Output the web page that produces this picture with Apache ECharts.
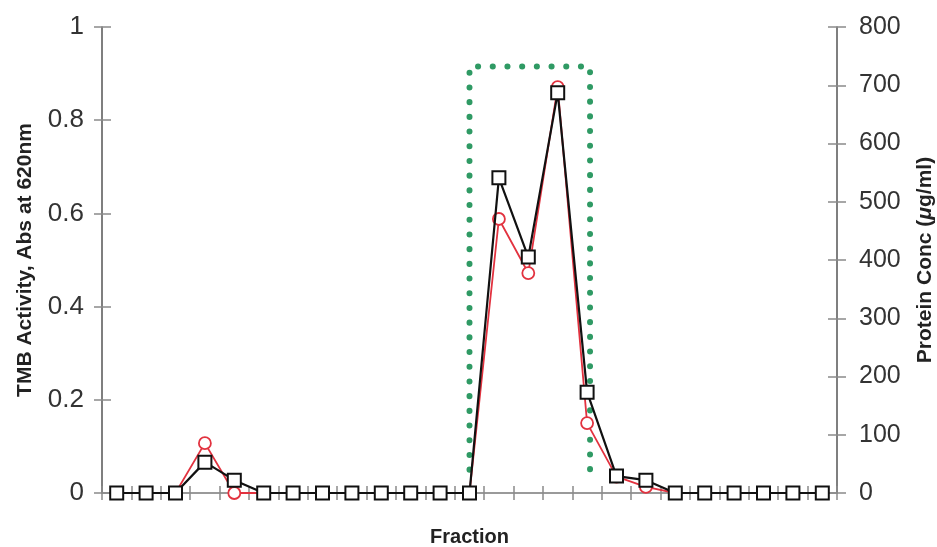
<!DOCTYPE html>
<html>
<head>
<meta charset="utf-8">
<script src="https://cdn.jsdelivr.net/npm/echarts@6/dist/echarts.min.js"></script>
<style>
  html, body { margin: 0; padding: 0; background: #fff; }
  #chart { width: 937px; height: 547px; }
</style>
</head>
<body>
<div id="chart"></div>
<script>
// Fraction numbers along the x axis (labels are not shown on the axis)
const fractions = [1,2,3,4,5,6,7,8,9,10,11,12,13,14,15,16,17,18,19,20,21,22,23,24,25];

// TMB activity (Abs at 620nm), left axis
const tmbActivity = [0,0,0,0.107,0,0,0,0,0,0,0,0,0,0.588,0.472,0.871,0.150,0.035,0.013,0,0,0,0,0,0];

// Protein concentration (µg/ml), right axis
const proteinConc = [0,0,0,53,22,0,0,0,0,0,0,0,0,541,405,687,173,29,22,0,0,0,0,0,0];

// Left axis ticks
const leftMin = 0, leftMax = 1, leftStep = 0.2;
// Right axis ticks
const rightMin = 0, rightMax = 800, rightStep = 100;

// Pooled fractions outline (fraction index along x, activity along y)
const poolX = [12, 16.1];
const poolTop = 0.915;
const poolBottom = 0.05;

const FONT = 'Liberation Sans, Arial, Helvetica, sans-serif';
const poolPath = [
  [poolX[0], poolBottom], [poolX[0], poolTop],
  [poolX[1], poolTop], [poolX[1], poolBottom]
];

const chart = echarts.init(document.getElementById('chart'), null, { renderer: 'canvas' });

const tickStyle = { color: '#8a8a8a', width: 1.5 };

chart.setOption({
  animation: false,
  backgroundColor: '#ffffff',
  grid: { left: 102, right: 100, top: 27, bottom: 54, containLabel: false, outerBoundsMode: 'none' },
  xAxis: [
    {
      type: 'category',
      data: fractions,
      boundaryGap: true,
      name: 'Fraction',
      nameLocation: 'middle',
      nameGap: 34,
      nameTextStyle: { fontFamily: FONT, fontWeight: 'bold', fontSize: 20, color: '#222' },
      axisLine: { onZero: false, lineStyle: { color: '#7a7a7a', width: 1.5 } },
      axisTick: { show: true, inside: false, length: 7, lineStyle: tickStyle },
      axisLabel: { show: false },
      splitLine: { show: false }
    },
    {
      type: 'category',
      data: fractions,
      boundaryGap: true,
      position: 'bottom',
      axisLine: { show: false, onZero: false },
      axisTick: { show: true, inside: true, length: 7, lineStyle: tickStyle },
      axisLabel: { show: false },
      splitLine: { show: false }
    },
    {
      type: 'value',
      min: -0.5,
      max: 24.5,
      show: false,
      axisLine: { onZero: false }
    }
  ],
  yAxis: [
    {
      type: 'value',
      min: leftMin, max: leftMax, interval: leftStep,
      position: 'left',
      name: 'TMB Activity, Abs at 620nm',
      nameLocation: 'middle',
      nameGap: 66,
      nameRotate: 90,
      nameTextStyle: { fontFamily: FONT, fontWeight: 'bold', fontSize: 21, color: '#222' },
      axisLine: { show: true, onZero: false, lineStyle: { color: '#555', width: 1.5 } },
      axisTick: { show: true, inside: false, length: 8, lineStyle: tickStyle },
      axisLabel: { fontFamily: FONT, fontSize: 26, color: '#333', margin: 18,
        formatter: v => String(Math.round(v * 10) / 10) },
      splitLine: { show: false }
    },
    {
      type: 'value',
      min: rightMin, max: rightMax, interval: rightStep,
      position: 'right',
      name: '{n|Protein Conc (}{mu|μ}{n|g/ml)}',
      nameLocation: 'middle',
      nameGap: 78,
      nameRotate: 90,
      nameTextStyle: {
        rich: {
          n: { fontFamily: FONT, fontWeight: 'bold', fontSize: 21, color: '#222' },
          mu: { fontFamily: FONT, fontWeight: 'bold', fontStyle: 'italic', fontSize: 21, color: '#222' }
        }
      },
      axisLine: { show: true, onZero: false, lineStyle: { color: '#555', width: 1.5 } },
      axisTick: { show: true, inside: false, length: 9, lineStyle: tickStyle },
      axisLabel: { fontFamily: FONT, fontSize: 25, color: '#333', margin: 22 },
      splitLine: { show: false }
    },
    {
      type: 'value',
      min: leftMin, max: leftMax, interval: leftStep,
      position: 'left',
      axisLine: { show: false, onZero: false },
      axisTick: { show: true, inside: true, length: 9, lineStyle: tickStyle },
      axisLabel: { show: false },
      splitLine: { show: false }
    },
    {
      type: 'value',
      min: rightMin, max: rightMax, interval: rightStep,
      position: 'right',
      axisLine: { show: false, onZero: false },
      axisTick: { show: true, inside: true, length: 9, lineStyle: tickStyle },
      axisLabel: { show: false },
      splitLine: { show: false }
    }
  ],
  series: [
    {
      name: 'Pooled fractions',
      type: 'line',
      xAxisIndex: 2,
      yAxisIndex: 0,
      data: poolPath,
      symbol: 'none',
      z: 1,
      lineStyle: { color: '#2f9a64', width: 6, type: [0.1, 14.6], cap: 'round', join: 'round' }
    },
    {
      name: 'TMB Activity',
      type: 'line',
      xAxisIndex: 0,
      yAxisIndex: 0,
      data: tmbActivity,
      symbol: 'circle',
      symbolSize: 12,
      z: 3,
      lineStyle: { color: '#e2323f', width: 1.8 },
      itemStyle: { color: '#ffffff', borderColor: '#e2323f', borderWidth: 1.8 }
    },
    {
      name: 'Protein Conc',
      type: 'line',
      xAxisIndex: 0,
      yAxisIndex: 1,
      data: proteinConc,
      symbol: 'rect',
      symbolSize: 13,
      z: 4,
      lineStyle: { color: '#111', width: 2.2 },
      itemStyle: { color: '#ffffff', borderColor: '#111', borderWidth: 2 }
    }
  ]
});
</script>
</body>
</html>
